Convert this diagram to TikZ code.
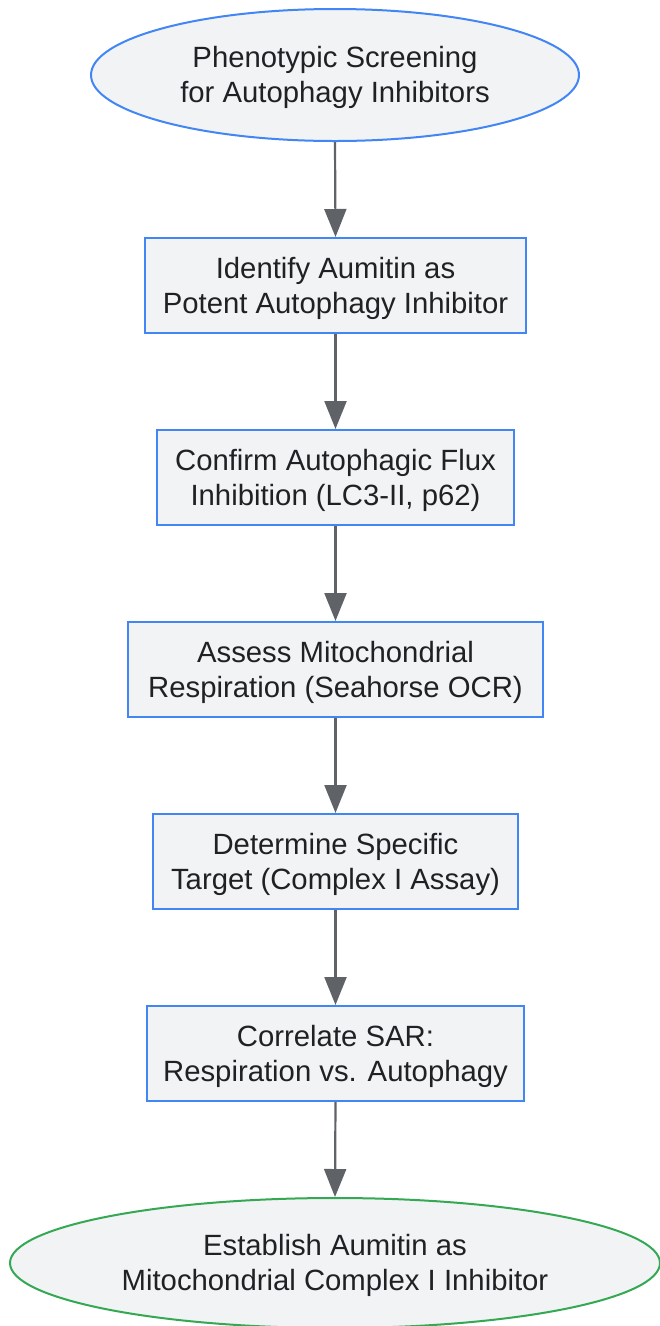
\documentclass[tikz,border=0pt]{standalone}
\usepackage{fontspec}
\setmainfont{Liberation Sans}
\usetikzlibrary{shapes.geometric,arrows.meta}
\definecolor{nodefill}{HTML}{F1F3F4}
\definecolor{blueline}{HTML}{4285F4}
\definecolor{greenline}{HTML}{34A853}
\definecolor{arrowcol}{HTML}{5F6368}
\definecolor{txt}{HTML}{202124}
\newcommand{\lowerfirst}{\rule{0pt}{27pt}}
\begin{document}
\begin{tikzpicture}[x=1pt,y=-1pt,
  basefont/.style={font=\fontsize{29.3}{35}\selectfont, text=txt, align=center, inner sep=0pt},
  stepbox/.style={basefont, rectangle, draw=blueline, fill=nodefill, line width=2pt, minimum height=95pt},
  startell/.style={basefont, ellipse, draw=blueline, fill=nodefill, line width=2pt},
  endell/.style={basefont, ellipse, draw=greenline, fill=nodefill, line width=2pt},
  flow/.style={draw=arrowcol, line width=2.2pt, -{Triangle[width=22pt,length=28pt]}}]
\useasboundingbox (0,0) rectangle (659,1326);
\node[startell, minimum width=488pt, minimum height=132pt] (e1) at (335,75) {\lowerfirst Phenotypic Screening\\for Autophagy Inhibitors};
\node[stepbox, minimum width=381pt] (b1) at (335.5,285.5) {\lowerfirst Identify Aumitin as\\Potent Autophagy Inhibitor};
\node[stepbox, minimum width=357pt] (b2) at (335.5,477.5) {\lowerfirst Confirm Autophagic Flux\\Inhibition (LC3-II, p62)};
\node[stepbox, minimum width=415pt] (b3) at (335.5,669.5) {\lowerfirst Assess Mitochondrial\\Respiration (Seahorse OCR)};
\node[stepbox, minimum width=365pt] (b4) at (335.5,861.5) {\lowerfirst Determine Specific\\Target (Complex I Assay)};
\node[stepbox, minimum width=377pt] (b5) at (335.5,1053.5) {\lowerfirst Correlate SAR:\\Respiration vs. Autophagy};
\node[endell, minimum width=650pt, minimum height=130pt] (e2) at (335,1263) {\lowerfirst Establish Aumitin as\\Mitochondrial Complex I Inhibitor};
\draw[flow] (e1.south) -- (b1.north);
\draw[flow] (b1.south) -- (b2.north);
\draw[flow] (b2.south) -- (b3.north);
\draw[flow] (b3.south) -- (b4.north);
\draw[flow] (b4.south) -- (b5.north);
\draw[flow] (b5.south) -- (e2.north);
\end{tikzpicture}
\end{document}
